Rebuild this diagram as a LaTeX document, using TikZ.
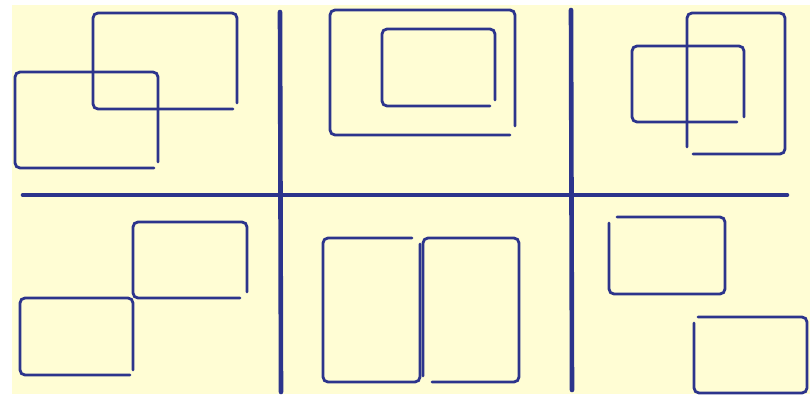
\documentclass[tikz,border=0pt]{standalone}
\definecolor{ink}{RGB}{44,52,140}
\definecolor{paper}{RGB}{255,253,212}
\begin{document}
\begin{tikzpicture}[x=1pt,y=-1pt,
  box/.style={draw=ink, line width=2.8pt, rounded corners=5pt, line cap=round},
  rule/.style={draw=ink, line width=4.6pt, line cap=round}]
\useasboundingbox (0,0) rectangle (810,396);
\fill[white] (0,0) rectangle (810,396);
\fill[paper] (12,5) rectangle (810,394);
% grid
\draw[rule] (280,12) -- (281,392);
\draw[rule] (571,10) -- (572,390);
\draw[rule] (23,195) -- (787,195);
% top-left
\draw[box] (158,162) -- (158,72) -- (15,72) -- (15,168) -- (154,168);
\draw[box] (237,103) -- (237,13) -- (93,13) -- (93,109) -- (233,109);
% top-middle
\draw[box] (515,126) -- (515,10) -- (330,10) -- (330,135) -- (510,135);
\draw[box] (495,100) -- (495,29) -- (382,29) -- (382,106) -- (490,106);
% top-right
\draw[box] (744,117) -- (744,46) -- (632,46) -- (632,122) -- (737,122);
\draw[box] (687,147) -- (687,13) -- (785,13) -- (785,154) -- (693,154);
% bottom-left
\draw[box] (247,292) -- (247,222) -- (133,222) -- (133,298) -- (240,298);
\draw[box] (133,370) -- (133,298) -- (20,298) -- (20,375) -- (130,375);
% bottom-middle
\draw[box] (412,238) -- (323,238) -- (323,382) -- (420,382) -- (420,244);
\draw[box] (432,382) -- (519,382) -- (519,238) -- (423,238) -- (423,376);
% bottom-right
\draw[box] (617,217) -- (725,217) -- (725,294) -- (609,294) -- (609,223);
\draw[box] (698,317) -- (807,317) -- (807,393) -- (694,393) -- (694,323);
\end{tikzpicture}
\end{document}
